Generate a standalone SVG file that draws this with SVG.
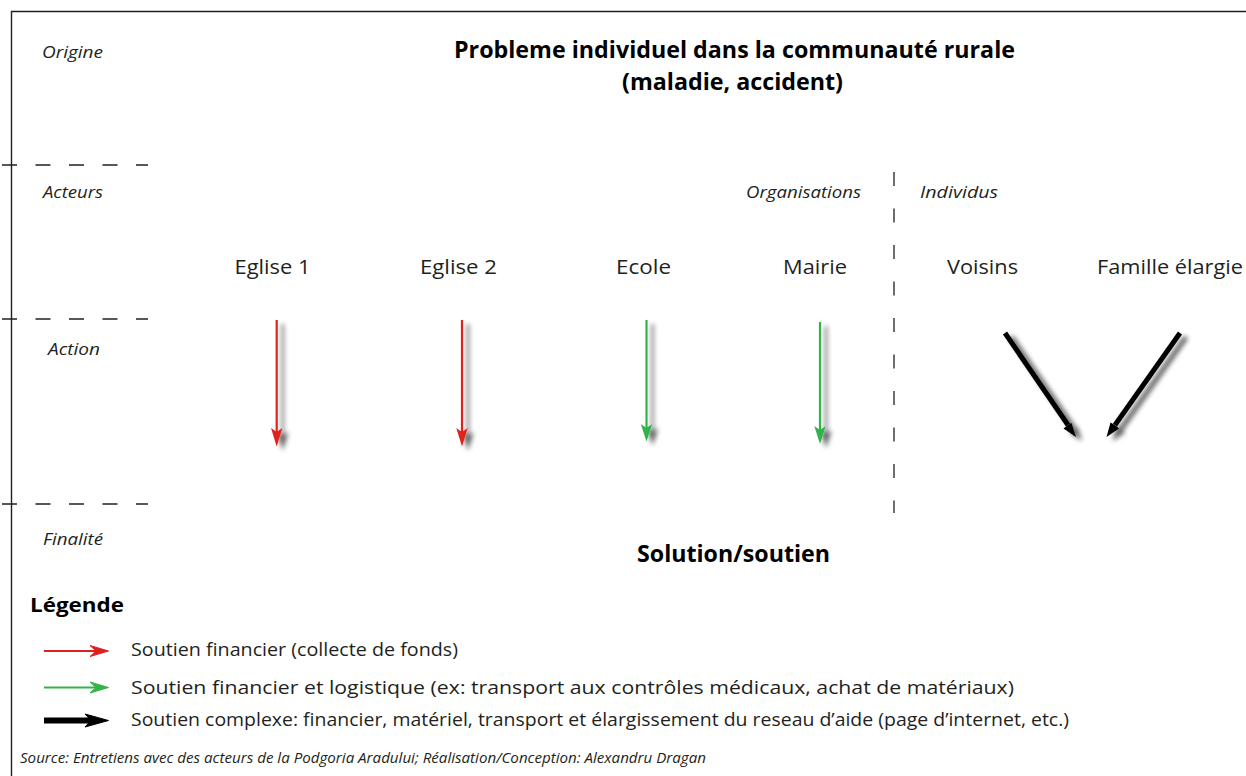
<svg xmlns="http://www.w3.org/2000/svg" width="1246" height="776" viewBox="0 0 1246 776">
<style>
.it{font-family:"Open Sans","Noto Sans","Liberation Sans",sans-serif;font-style:italic;font-size:16px;fill:#231f20}
.nd{font-family:"Open Sans","Noto Sans","Liberation Sans",sans-serif;font-size:20px;fill:#231f20;text-anchor:middle}
.tb{font-family:"Open Sans","Noto Sans","Liberation Sans",sans-serif;font-weight:bold;font-size:22.5px;fill:#000;text-anchor:middle}
.lg{font-family:"Open Sans","Noto Sans","Liberation Sans",sans-serif;font-size:17.5px;fill:#231f20}
.src{font-family:"Open Sans","Noto Sans","Liberation Sans",sans-serif;font-style:italic;font-size:15px;fill:#231f20}
.dash{stroke:#231f20;stroke-width:1.3;fill:none}
.red{stroke:#e0201f;fill:#e0201f}
.grn{stroke:#33b34a;fill:#33b34a}
.blk{stroke:#000;fill:#000}
</style>
<defs>
<filter id="sh" x="-50%" y="-20%" width="200%" height="140%">
<feGaussianBlur in="SourceAlpha" stdDeviation="2.5"/>
<feOffset dx="6" dy="4" result="b"/>
<feComponentTransfer in="b" result="c"><feFuncA type="linear" slope="0.65"/></feComponentTransfer>
<feMerge><feMergeNode in="c"/><feMergeNode in="SourceGraphic"/></feMerge>
</filter>
</defs>
<rect width="1246" height="776" fill="#fff"/>
<!-- frame -->
<path d="M11.5 780 V11.5 H1250" stroke="#231f20" stroke-width="1.4" fill="none"/>
<!-- section separators -->
<g class="dash">
<line x1="2" y1="165" x2="148" y2="165" stroke-dasharray="15 18.5"/>
<line x1="2" y1="319" x2="148" y2="319" stroke-dasharray="15 18.5"/>
<line x1="2" y1="504" x2="148" y2="504" stroke-dasharray="15 18.5"/>
<line x1="894" y1="172" x2="894" y2="513" stroke-dasharray="14 22.5"/>
</g>
<!-- row labels -->
<text class="it" x="42" y="58" textLength="61" lengthAdjust="spacingAndGlyphs">Origine</text>
<text class="it" x="43" y="198" textLength="60" lengthAdjust="spacingAndGlyphs">Acteurs</text>
<text class="it" x="48" y="355" textLength="52" lengthAdjust="spacingAndGlyphs">Action</text>
<text class="it" x="43" y="545" textLength="60" lengthAdjust="spacingAndGlyphs">Finalité</text>
<text class="it" x="746" y="198" textLength="115" lengthAdjust="spacingAndGlyphs">Organisations</text>
<text class="it" x="920" y="198" textLength="78" lengthAdjust="spacingAndGlyphs">Individus</text>
<!-- title / origin -->
<g id="origine">
<text class="tb" x="734.5" y="58" textLength="561" lengthAdjust="spacingAndGlyphs">Probleme individuel dans la communauté rurale</text>
<text class="tb" x="732.5" y="90" textLength="221" lengthAdjust="spacingAndGlyphs">(maladie, accident)</text>
</g>
<!-- actor nodes -->
<g id="eglise1"><text class="nd" x="272.5" y="274" textLength="76" lengthAdjust="spacingAndGlyphs">Eglise 1</text></g>
<g id="eglise2"><text class="nd" x="458.5" y="274" textLength="77" lengthAdjust="spacingAndGlyphs">Eglise 2</text></g>
<g id="ecole"><text class="nd" x="643.5" y="274" textLength="55" lengthAdjust="spacingAndGlyphs">Ecole</text></g>
<g id="mairie"><text class="nd" x="815" y="274" textLength="64" lengthAdjust="spacingAndGlyphs">Mairie</text></g>
<g id="voisins"><text class="nd" x="982.5" y="274" textLength="71" lengthAdjust="spacingAndGlyphs">Voisins</text></g>
<g id="famille"><text class="nd" x="1170" y="274" textLength="146" lengthAdjust="spacingAndGlyphs">Famille élargie</text></g>
<!-- finality -->
<g id="solution"><text class="tb" x="733.5" y="562" textLength="193" lengthAdjust="spacingAndGlyphs">Solution/soutien</text></g>
<!-- connectors -->
<g id="connectors" filter="url(#sh)">
<g class="red">
<line x1="276.7" y1="320" x2="276.7" y2="432" stroke-width="2.2"/>
<path d="M276.7 446.5 L271 428 L276.7 432 L282.4 428 Z" stroke="none"/>
<line x1="462" y1="320" x2="462" y2="432" stroke-width="2.2"/>
<path d="M462 446.5 L456.3 428 L462 432 L467.7 428 Z" stroke="none"/>
</g>
<g class="grn">
<line x1="646.5" y1="320" x2="646.5" y2="428" stroke-width="2.2"/>
<path d="M646.5 441.5 L640.8 424 L646.5 428 L652.2 424 Z" stroke="none"/>
<line x1="820" y1="322" x2="820" y2="430" stroke-width="2.2"/>
<path d="M820 444 L814.3 426 L820 430 L825.7 426 Z" stroke="none"/>
</g>
<g class="blk">
<line x1="1005" y1="333" x2="1068" y2="425" stroke-width="5"/>
<path d="M1076 437 L1063.5 428.5 L1068 425 L1071.5 423 Z" stroke="none"/>
<line x1="1180" y1="333" x2="1115" y2="425" stroke-width="5"/>
<path d="M1106.5 437 L1110.5 422.5 L1115 425 L1119 428.5 Z" stroke="none"/>
</g>
</g>
<!-- legend -->
<g id="legende">
<text x="30" y="612" font-family="'Open Sans','Noto Sans','Liberation Sans',sans-serif" font-weight="bold" font-size="20" fill="#000" textLength="94" lengthAdjust="spacingAndGlyphs">Légende</text>
<line x1="44" y1="651" x2="98" y2="651" class="red" stroke-width="1.8"/>
<path d="M108.5 651 L90 645.5 L96 651 L90 656.5 Z" class="red" stroke="none"/>
<text class="lg" x="131" y="656" textLength="327" lengthAdjust="spacingAndGlyphs">Soutien financier (collecte de fonds)</text>
<line x1="44" y1="687.5" x2="98" y2="687.5" class="grn" stroke-width="1.8"/>
<path d="M108.5 687.5 L90 682 L96 687.5 L90 693 Z" class="grn" stroke="none"/>
<text class="lg" x="131" y="694" textLength="883" lengthAdjust="spacingAndGlyphs">Soutien financier et logistique (ex: transport aux contrôles médicaux, achat de matériaux)</text>
<line x1="44" y1="720.5" x2="94" y2="720.5" class="blk" stroke-width="6"/>
<path d="M108.5 720.5 L85 714 L91 720.5 L85 727 Z" class="blk" stroke="none"/>
<text class="lg" x="131" y="726" textLength="938" lengthAdjust="spacingAndGlyphs">Soutien complexe: financier, matériel, transport et élargissement du reseau d’aide (page d’internet, etc.)</text>
</g>
<text class="src" x="20" y="763" textLength="686" lengthAdjust="spacingAndGlyphs">Source: Entretiens avec des acteurs de la Podgoria Aradului; Réalisation/Conception: Alexandru Dragan</text>
</svg>
